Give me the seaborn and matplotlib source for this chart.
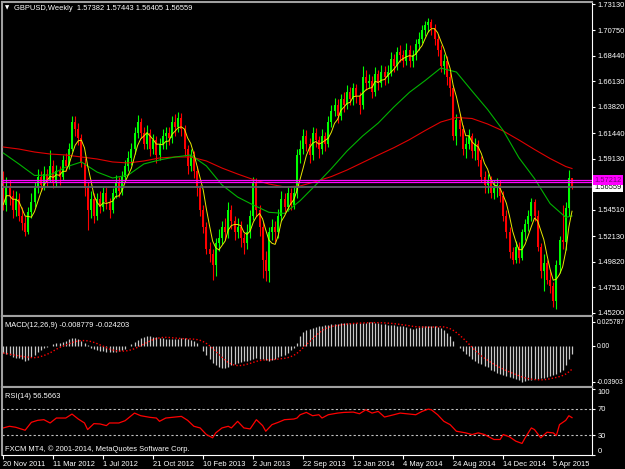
#!/usr/bin/env python3

# GBPUSD weekly, MT4 look: candles with MAs, MACD and RSI windows below

import numpy as np
import pandas as pd
import matplotlib
matplotlib.use("Agg")
import matplotlib.pyplot as plt
import matplotlib.transforms as mtransforms
import seaborn as sns

W, H = 625, 469

# weekly candles, 20 Nov 2011 .. 17 May 2015 (open = previous close)
first_open = 1.572
closes = [
    1.550, 1.566, 1.558, 1.545, 1.555, 1.540, 1.533, 1.525, 1.543, 1.552,
    1.565, 1.575, 1.568, 1.578, 1.572, 1.585, 1.570, 1.580, 1.575, 1.590,
    1.585, 1.600, 1.625, 1.618, 1.610, 1.588, 1.565, 1.545, 1.555, 1.540,
    1.555, 1.548, 1.560, 1.552, 1.545, 1.560, 1.570, 1.562, 1.575, 1.585,
    1.592, 1.600, 1.615, 1.625, 1.615, 1.605, 1.615, 1.600, 1.608, 1.595,
    1.605, 1.612, 1.615, 1.610, 1.625, 1.620, 1.628, 1.618, 1.600,
    1.585, 1.595, 1.580, 1.565, 1.545, 1.530, 1.510, 1.505, 1.495, 1.515,
    1.520, 1.530, 1.525, 1.545, 1.535, 1.525, 1.530, 1.520, 1.515, 1.525,
    1.540, 1.570, 1.545, 1.530, 1.500, 1.490, 1.525, 1.530, 1.525, 1.540,
    1.555, 1.548, 1.560, 1.550, 1.560, 1.595, 1.600, 1.612, 1.605, 1.595,
    1.615, 1.608, 1.600, 1.612, 1.605, 1.625, 1.635, 1.640, 1.630, 1.645,
    1.640, 1.652, 1.645, 1.655, 1.648, 1.640, 1.665, 1.660, 1.662, 1.652,
    1.668, 1.660, 1.670, 1.665, 1.670, 1.682, 1.675, 1.688, 1.685, 1.680,
    1.690, 1.680, 1.685, 1.695, 1.700, 1.708, 1.712, 1.715, 1.710,
    1.700, 1.690, 1.675, 1.680, 1.665, 1.655, 1.612, 1.626, 1.618, 1.600,
    1.605, 1.612, 1.598, 1.605, 1.590, 1.575, 1.568, 1.572, 1.560, 1.565,
    1.568, 1.558, 1.540, 1.525, 1.507, 1.500, 1.512, 1.502, 1.525, 1.532,
    1.540, 1.552, 1.540, 1.512, 1.490, 1.497, 1.482, 1.476, 1.463, 1.495,
    1.518, 1.516, 1.5465, 1.57382, 1.56559,
]
highs = [
    1.580, 1.575, 1.572, 1.563, 1.562, 1.560, 1.548, 1.540, 1.548, 1.560,
    1.570, 1.582, 1.580, 1.585, 1.582, 1.599, 1.590, 1.586, 1.585, 1.595,
    1.597, 1.606, 1.630, 1.630, 1.624, 1.614, 1.592, 1.570, 1.562, 1.560,
    1.560, 1.562, 1.566, 1.566, 1.556, 1.565, 1.577, 1.575, 1.580, 1.590,
    1.598, 1.606, 1.620, 1.631, 1.628, 1.620, 1.622, 1.618, 1.614, 1.612,
    1.610, 1.618, 1.620, 1.620, 1.630, 1.632, 1.634, 1.633, 1.622,
    1.604, 1.600, 1.598, 1.585, 1.568, 1.550, 1.534, 1.516, 1.510, 1.520,
    1.528, 1.535, 1.538, 1.552, 1.550, 1.540, 1.538, 1.535, 1.524, 1.532,
    1.545, 1.575, 1.574, 1.550, 1.534, 1.508, 1.530, 1.537, 1.535, 1.546,
    1.562, 1.560, 1.566, 1.565, 1.566, 1.600, 1.608, 1.618, 1.617, 1.610,
    1.620, 1.619, 1.612, 1.618, 1.616, 1.630, 1.640, 1.646, 1.645, 1.650,
    1.652, 1.658, 1.656, 1.660, 1.659, 1.652, 1.675, 1.672, 1.668, 1.666,
    1.674, 1.672, 1.676, 1.675, 1.676, 1.688, 1.686, 1.692, 1.694, 1.690,
    1.696, 1.694, 1.690, 1.700, 1.706, 1.712, 1.716, 1.719, 1.718,
    1.713, 1.704, 1.694, 1.686, 1.684, 1.670, 1.658, 1.632, 1.632, 1.622,
    1.611, 1.618, 1.615, 1.610, 1.608, 1.594, 1.580, 1.578, 1.576, 1.572,
    1.574, 1.572, 1.562, 1.545, 1.530, 1.512, 1.517, 1.516, 1.528, 1.537,
    1.545, 1.556, 1.555, 1.545, 1.515, 1.505, 1.500, 1.490, 1.480, 1.500,
    1.522, 1.550, 1.5522, 1.5815, 1.57443,
]
lows = [
    1.545, 1.544, 1.550, 1.538, 1.540, 1.535, 1.527, 1.522, 1.523, 1.538,
    1.548, 1.560, 1.562, 1.563, 1.566, 1.570, 1.565, 1.566, 1.568, 1.572,
    1.580, 1.582, 1.598, 1.612, 1.604, 1.584, 1.558, 1.527, 1.538, 1.533,
    1.536, 1.542, 1.544, 1.546, 1.538, 1.542, 1.556, 1.557, 1.559, 1.570,
    1.580, 1.586, 1.596, 1.610, 1.610, 1.600, 1.600, 1.594, 1.596, 1.588,
    1.590, 1.600, 1.600, 1.604, 1.606, 1.612, 1.616, 1.612, 1.594,
    1.578, 1.580, 1.574, 1.558, 1.540, 1.524, 1.505, 1.498, 1.482, 1.485,
    1.508, 1.514, 1.518, 1.520, 1.528, 1.518, 1.520, 1.512, 1.505, 1.510,
    1.520, 1.536, 1.540, 1.522, 1.484, 1.481, 1.480, 1.518, 1.516, 1.520,
    1.535, 1.542, 1.544, 1.545, 1.546, 1.556, 1.588, 1.596, 1.598, 1.588,
    1.590, 1.602, 1.592, 1.596, 1.598, 1.602, 1.620, 1.630, 1.624, 1.626,
    1.634, 1.636, 1.640, 1.640, 1.642, 1.632, 1.636, 1.654, 1.655, 1.646,
    1.648, 1.654, 1.656, 1.658, 1.660, 1.666, 1.670, 1.672, 1.679, 1.674,
    1.676, 1.674, 1.674, 1.681, 1.690, 1.696, 1.702, 1.706, 1.703,
    1.694, 1.684, 1.670, 1.668, 1.658, 1.648, 1.608, 1.604, 1.612, 1.595,
    1.592, 1.600, 1.592, 1.590, 1.585, 1.570, 1.560, 1.560, 1.556, 1.555,
    1.557, 1.552, 1.535, 1.520, 1.502, 1.496, 1.497, 1.497, 1.500, 1.518,
    1.526, 1.535, 1.535, 1.508, 1.484, 1.472, 1.478, 1.470, 1.457, 1.456,
    1.488, 1.510, 1.509, 1.540, 1.56405,
]

# slow moving averages every 5 bars
ma_bars = list(range(0, 181, 5)) + [182]
ma_green = [
    1.5966, 1.5867, 1.5763, 1.5767, 1.5839, 1.5885, 1.5794, 1.5740, 1.5767, 1.5867,
    1.5903, 1.5930, 1.5948, 1.5849, 1.5677, 1.5568, 1.5496, 1.5430, 1.5420, 1.5535,
    1.5677, 1.5825, 1.5984, 1.6120, 1.6237, 1.6382, 1.6515, 1.6621, 1.6734, 1.6698,
    1.6527, 1.6359, 1.6169, 1.5924, 1.5735, 1.5509, 1.5384, 1.5397,
]
ma_red = [
    1.6020, 1.6002, 1.5975, 1.5957, 1.5948, 1.5930, 1.5912, 1.5885, 1.5876, 1.5894,
    1.5921, 1.5930, 1.5930, 1.5894, 1.5830, 1.5776, 1.5726, 1.5686, 1.5659, 1.5668,
    1.5708, 1.5753, 1.5812, 1.5880, 1.5948, 1.6014, 1.6087, 1.6169, 1.6246, 1.6287,
    1.6278, 1.6228, 1.6165, 1.6084, 1.5998, 1.5916, 1.5844, 1.5826,
]

# MACD main line (histogram), one value per bar
macd_main = [
    -0.0079, -0.0090, -0.0105, -0.0118, -0.0128, -0.0135, -0.0145, -0.0160, -0.0150, -0.0125,
    -0.0095, -0.0070, -0.0045, -0.0030, -0.0015, 0.0000, 0.0015, 0.0026, 0.0032, 0.0040,
    0.0055, 0.0070, 0.0081, 0.0078, 0.0068, 0.0050, 0.0026, 0.0005, -0.0020, -0.0035,
    -0.0045, -0.0052, -0.0060, -0.0068, -0.0072, -0.0068, -0.0063, -0.0055, -0.0045, -0.0035,
    -0.0005, 0.0018, 0.0040, 0.0060, 0.0081, 0.0098, 0.0107, 0.0104, 0.0098, 0.0090,
    0.0083, 0.0078, 0.0073, 0.0070, 0.0072, 0.0074, 0.0076, 0.0078, 0.0078, 0.0072,
    0.0065, 0.0050, 0.0030, 0.0000, -0.0055, -0.0097, -0.0140, -0.0183, -0.0210, -0.0235,
    -0.0240, -0.0242, -0.0228, -0.0212, -0.0195, -0.0185, -0.0175, -0.0166, -0.0160, -0.0155,
    -0.0142, -0.0131, -0.0140, -0.0148, -0.0158, -0.0166, -0.0150, -0.0141, -0.0120, -0.0108,
    -0.0095, -0.0080, -0.0050, -0.0020, 0.0030, 0.0110, 0.0150, 0.0170, 0.0185, 0.0196,
    0.0204, 0.0210, 0.0216, 0.0222, 0.0228, 0.0233, 0.0236, 0.0239, 0.0241, 0.0244,
    0.0248, 0.0248, 0.0248, 0.0248, 0.0247, 0.0248, 0.0250, 0.0253, 0.0255, 0.0250,
    0.0243, 0.0238, 0.0233, 0.0229, 0.0225, 0.0221, 0.0218, 0.0214, 0.0211, 0.0200,
    0.0190, 0.0181, 0.0192, 0.0204, 0.0208, 0.0210, 0.0211, 0.0211, 0.0211, 0.0205,
    0.0190, 0.0174, 0.0140, 0.0100, 0.0050, 0.0000, -0.0030, -0.0062, -0.0090, -0.0114,
    -0.0140, -0.0166, -0.0185, -0.0200, -0.0220, -0.0235, -0.0260, -0.0275, -0.0290, -0.0304,
    -0.0313, -0.0322, -0.0333, -0.0345, -0.0360, -0.0375, -0.0390, -0.0382, -0.0373, -0.0368,
    -0.0363, -0.0358, -0.0352, -0.0347, -0.0340, -0.0330, -0.0320, -0.0304, -0.0285, -0.0265,
    -0.0210, -0.0140, -0.008779,
]

# RSI(14)
rsi_bars = [
    0, 2, 4, 7, 9, 11, 13, 15, 17, 20, 22, 24, 26, 27, 29, 31, 33, 34, 37, 39,
    42, 44, 47, 49, 50, 52, 55, 57, 59, 61, 63, 65, 67, 68, 70, 72, 73, 75, 77, 79,
    81, 83, 84, 86, 88, 90, 93, 94, 95, 97, 99, 101, 102, 104, 107, 109, 112, 114, 116, 118,
    120, 122, 125, 127, 130, 132, 134, 136, 137, 139, 141, 143, 145, 148, 150, 152, 154, 157, 159, 160,
    162, 164, 166, 167, 169, 170, 172, 174, 176, 177, 178, 180, 181, 182,
]
rsi_vals = [
    41, 43.5, 42, 37.5, 49.5, 52.5, 53.5, 48.5, 56, 56, 62, 54.5, 48.5, 38.5, 47.5, 47, 44.5, 48.5, 48.5, 52,
    63.5, 59.5, 57, 56, 51, 56, 57.5, 58.5, 52.5, 43.5, 41, 31, 26, 33.5, 41, 43.5, 41, 51, 41, 39.5,
    53.5, 44.5, 36, 46, 49.5, 53.5, 54.5, 56, 61, 64.5, 59.5, 61, 56, 61, 63.5, 64.5, 65, 62.5, 68.5, 63.5,
    66, 57.5, 61, 63.5, 62, 61, 66, 69.5, 68.5, 61, 51, 46, 36, 33.5, 31, 33.5, 31, 23.5, 23.5, 31,
    27.5, 21, 17.5, 26, 41, 38.5, 26, 34.5, 33.5, 29.5, 46, 52.5, 59.5, 56.57,
]

price_ticks = [1.7313, 1.7075, 1.6844, 1.6613, 1.6382, 1.6144, 1.5913,
               1.5451, 1.5213, 1.4982, 1.4751, 1.4520]
magenta_levels = [1.57212, 1.5700]
bid = 1.56559
date_labels = ["20 Nov 2011", "11 Mar 2012", "1 Jul 2012", "21 Oct 2012",
               "10 Feb 2013", "2 Jun 2013", "22 Sep 2013", "12 Jan 2014",
               "4 May 2014", "24 Aug 2014", "14 Dec 2014", "5 Apr 2015"]

plt.rcParams["font.family"] = ["Liberation Sans", "DejaVu Sans"]
FS = 5.4

df = pd.DataFrame({"close": closes, "high": highs, "low": lows})
df["open"] = [first_open] + closes[:-1]
df["bar"] = np.arange(len(df))
df["fast_ma"] = df["close"].rolling(5, min_periods=1).mean()
signal = pd.Series(macd_main).rolling(9, min_periods=1).mean()

fig = plt.figure(figsize=(W / 100, H / 100), dpi=100, facecolor="black")


def panel(top, bottom, pad=1.5):
    ax = fig.add_axes([2 / W, 1 - bottom / H, 590 / W, (bottom - top) / H])
    ax.set_facecolor("black")
    ax.set_xlim(-0.4, 188.4)
    for side in ("top", "left", "bottom"):
        ax.spines[side].set_color("#a0a0a0")
        ax.spines[side].set_linewidth(1.5)
    ax.spines["right"].set_color("white")
    ax.spines["right"].set_linewidth(0.8)
    ax.yaxis.tick_right()
    ax.tick_params(axis="y", colors="white", direction="out", length=2.5,
                   width=0.8, labelsize=FS, pad=pad)
    ax.set_xticks([])
    return ax


# ---- price window
ax = panel(2, 316)
ax.set_ylim(1.44925, 1.73311)
up = df["close"] >= df["open"]
colors = np.where(up, "#00ff00", "#ff0000")
ax.vlines(df["bar"], df["low"], df["high"], colors=colors, linewidth=0.8, zorder=2)
body = np.maximum((df["close"] - df["open"]).abs(), 0.0006)
ax.bar(df["bar"], body, bottom=np.minimum(df["open"], df["close"]),
       width=0.6, color=colors, linewidth=0, zorder=2)

sns.lineplot(x=ma_bars, y=ma_red, color="#e00000", lw=0.8, ax=ax, zorder=3)
sns.lineplot(x=ma_bars, y=ma_green, color="#00b400", lw=0.8, ax=ax, zorder=3)
sns.lineplot(data=df, x="bar", y="fast_ma", color="#e8e800", lw=0.7, ax=ax, zorder=3)

for lvl in magenta_levels:
    ax.axhline(lvl, color="#ff00ff", lw=0.9, zorder=4)
ax.axhline(bid, color="#5c5c66", lw=1.3, zorder=4)

ax.set_yticks(price_ticks, labels=[f"{v:.5f}" for v in price_ticks])
ax.set_xlabel("")
ax.set_ylabel("")

tr = mtransforms.blended_transform_factory(ax.transAxes, ax.transData)
ax.text(1 + 2 / 590, bid, f"{bid:.5f}", transform=tr, ha="left", va="center",
        fontsize=FS, color="black", clip_on=False, zorder=6,
        bbox=dict(boxstyle="square,pad=0.2", fc="white", ec="none"))
ax.text(1 + 2 / 590, magenta_levels[0], f"{magenta_levels[0]:.5f}", transform=tr,
        ha="left", va="center", fontsize=FS, color="#7a007a", clip_on=False, zorder=7,
        bbox=dict(boxstyle="square,pad=0.2", fc="#ff00ff", ec="none"))

# ---- MACD window
ax2 = panel(316, 387, pad=0.8)
ax2.set_ylim(-0.0446, 0.0321)
ax2.vlines(df["bar"], 0, macd_main, colors="#c8c8c8", linewidth=0.9)
ax2.plot(df["bar"], signal, color="#ff0000", lw=1, ls=(0, (1, 1.5)))
ax2.set_yticks([0.025787, 0.0, -0.03903], labels=["0.025787", "0.00", "-0.03903"])
ax2.tick_params(axis="y", labelsize=4.9)

# ---- RSI window
ax3 = panel(387, 455)
ax3.set_ylim(1, 103)
for lvl in (70, 30):
    ax3.axhline(lvl, color="#c0c0c0", lw=0.8, ls=(0, (2, 2)))
sns.lineplot(x=rsi_bars, y=rsi_vals, color="#ff0000", lw=0.9, ax=ax3)
ax3.set_xlabel("")
ax3.set_ylabel("")
ax3.set_yticks([100, 70, 30, 0], labels=["100", "70", "30", "0"])
ticks = ax3.yaxis.get_major_ticks()
ticks[0].label2.set_va("top")
ticks[3].label2.set_va("bottom")
ax3.spines["bottom"].set_color("white")
ax3.spines["bottom"].set_linewidth(0.8)
ax3.set_xticks(list(range(0, 177, 16)), labels=date_labels)
ax3.tick_params(axis="x", colors="white", direction="out", length=3, width=0.8,
                labelsize=FS, pad=1)
for lab in ax3.get_xticklabels():
    lab.set_ha("left")

# ---- captions
txt = dict(color="white", fontsize=FS, va="center", ha="left")
fig.text(4.5 / W, 1 - 8 / H, "\u25bc", color="white", fontsize=4, va="center",
         family=["DejaVu Sans"])
fig.text(14 / W, 1 - 8 / H, "GBPUSD,Weekly  1.57382 1.57443 1.56405 1.56559", **txt)
fig.text(5 / W, 1 - 325 / H, "MACD(12,26,9) -0.008779 -0.024203", **txt)
fig.text(5 / W, 1 - 396 / H, "RSI(14) 56.5663", **txt)
fig.text(5 / W, 1 - 449 / H, "FXCM MT4, \u00a9 2001-2014, MetaQuotes Software Corp.", **txt)

fig.savefig("out.png", dpi=100, facecolor="black")
